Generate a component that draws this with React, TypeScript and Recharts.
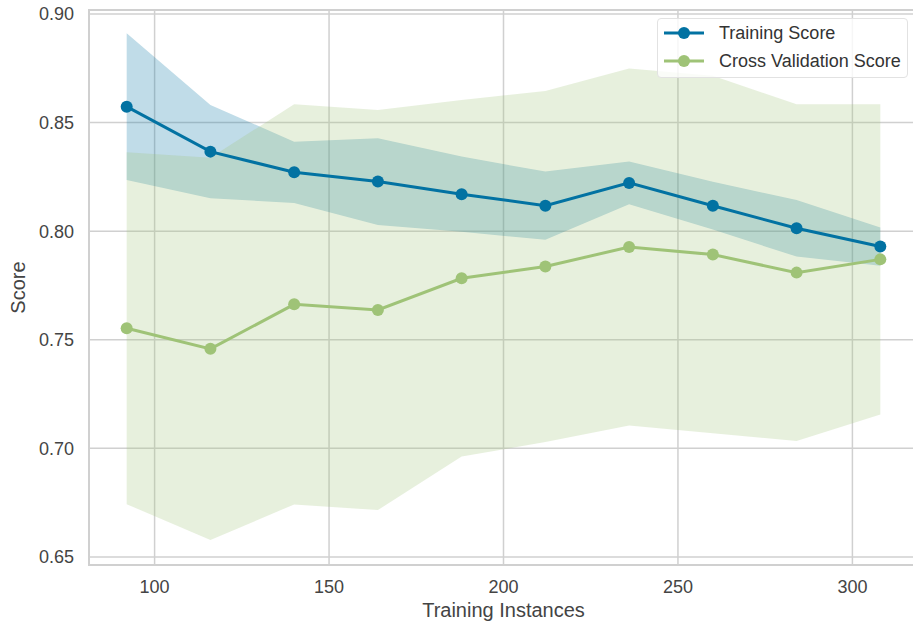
import React from 'react';
import {
  Area,
  CartesianGrid,
  ComposedChart,
  Line,
  ReferenceArea,
  XAxis,
  YAxis,
} from 'recharts';

// training set sizes and scores
const trainSizes = [92, 116, 140, 164, 188, 212, 236, 260, 284, 308];
const trainMean = [0.8573, 0.8366, 0.8271, 0.8228, 0.817, 0.8117, 0.8222, 0.8117, 0.8013, 0.7929];
const trainStd = [0.0338, 0.0215, 0.0141, 0.02, 0.0173, 0.0157, 0.0098, 0.011, 0.013, 0.0088];
const cvMean = [0.7553, 0.7458, 0.7663, 0.7637, 0.7783, 0.7837, 0.7927, 0.7892, 0.7809, 0.787];
const cvStd = [0.081, 0.088, 0.0921, 0.0921, 0.0821, 0.0808, 0.0822, 0.0823, 0.0775, 0.0714];

const xTicks = [100, 150, 200, 250, 300];
const yTicks = [0.65, 0.7, 0.75, 0.8, 0.85, 0.9];
const xDomain: [number, number] = [81.2, 318.8];
const yDomain: [number, number] = [0.6463, 0.9018];

const BLUE = '#0272a2';
const GREEN = '#9fc377';
const GRID = '#d0d0d0';
const FONT = '"Liberation Sans", Arial, sans-serif';

const data = trainSizes.map((n, i) => ({
  n,
  train: trainMean[i],
  trainBand: [trainMean[i] - trainStd[i], trainMean[i] + trainStd[i]],
  cv: cvMean[i],
  cvBand: [cvMean[i] - cvStd[i], cvMean[i] + cvStd[i]],
}));

const legendItems = [
  { name: 'Training Score', color: BLUE },
  { name: 'Cross Validation Score', color: GREEN },
];

// matplotlib-style legend box, top right of the axes
const LegendBox = () => (
  <div
    style={{
      position: 'absolute',
      left: 657,
      top: 18,
      width: 251,
      height: 60,
      boxSizing: 'border-box',
      background: 'rgba(255,255,255,0.8)',
      border: '1px solid #e2e2e2',
      borderRadius: 4,
      fontFamily: FONT,
      fontSize: 18,
      color: '#333',
    }}
  >
    {legendItems.map((item, i) => (
      <div
        key={item.name}
        style={{ position: 'absolute', left: 0, top: 3 + i * 28, height: 22, display: 'flex', alignItems: 'center' }}
      >
        <svg width={60} height={22} style={{ display: 'block' }}>
          <line x1={6} x2={46} y1={11} y2={11} stroke={item.color} strokeWidth={3} />
          <circle cx={26} cy={11} r={6} fill={item.color} />
        </svg>
        <span style={{ marginLeft: 1, whiteSpace: 'nowrap' }}>{item.name}</span>
      </div>
    ))}
  </div>
);

export default function App() {
  return (
    <div style={{ position: 'fixed', left: 0, top: 0, width: 913, height: 627, overflow: 'hidden', background: '#fff' }}>
      <ComposedChart width={930} height={627} data={data} margin={{ top: 10, right: 12, bottom: 0, left: 0 }}>
        <CartesianGrid stroke={GRID} strokeWidth={1.5} />
        <XAxis
          dataKey="n"
          type="number"
          domain={xDomain}
          ticks={xTicks}
          allowDataOverflow
          height={62}
          tickLine={false}
          axisLine={false}
          tickSize={6}
          tickMargin={9}
          tick={{ fill: '#444', fontSize: 18, fontFamily: FONT }}
          label={{ value: 'Training Instances', position: 'insideBottom', offset: 10, fill: '#444', fontSize: 20, fontFamily: FONT }}
        />
        <YAxis
          type="number"
          domain={yDomain}
          ticks={yTicks}
          allowDataOverflow
          width={89}
          tickLine={false}
          axisLine={false}
          tickSize={6}
          tickMargin={9}
          tickFormatter={(v: number) => v.toFixed(2)}
          tick={{ fill: '#444', fontSize: 18, fontFamily: FONT }}
          label={{
            value: 'Score',
            angle: -90,
            position: 'insideLeft',
            offset: 18,
            fill: '#444',
            fontSize: 20,
            fontFamily: FONT,
            style: { textAnchor: 'middle' },
          }}
        />
        <ReferenceArea
          x1={xDomain[0]}
          x2={xDomain[1]}
          y1={yDomain[0]}
          y2={yDomain[1]}
          fill="none"
          stroke={GRID}
          strokeWidth={2}
          ifOverflow="visible"
        />
        <Area
          type="linear"
          dataKey="trainBand"
          stroke="none"
          fill={BLUE}
          fillOpacity={0.25}
          isAnimationActive={false}
          activeDot={false}
        />
        <Area
          type="linear"
          dataKey="cvBand"
          stroke="none"
          fill={GREEN}
          fillOpacity={0.25}
          isAnimationActive={false}
          activeDot={false}
        />
        <Line
          type="linear"
          dataKey="train"
          stroke={BLUE}
          strokeWidth={3}
          dot={{ r: 6, fill: BLUE, stroke: BLUE, strokeWidth: 0 }}
          isAnimationActive={false}
        />
        <Line
          type="linear"
          dataKey="cv"
          stroke={GREEN}
          strokeWidth={3}
          dot={{ r: 6, fill: GREEN, stroke: GREEN, strokeWidth: 0 }}
          isAnimationActive={false}
        />
      </ComposedChart>
      <LegendBox />
    </div>
  );
}
